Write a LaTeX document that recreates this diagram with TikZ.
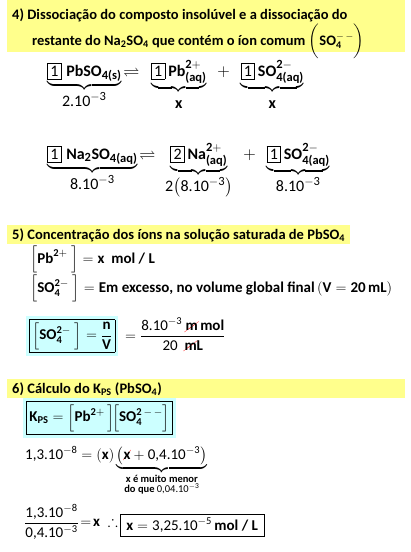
\documentclass[tikz,border=0pt]{standalone}
\usepackage{amsmath}
\usepackage{amssymb}
\usepackage{fontspec}
\setmainfont{Carlito}
\usepackage{cancel}
\renewcommand{\CancelColor}{\color{red}}
\DeclareMathSizes{16}{16}{12.5}{10}
\definecolor{bandyellow}{RGB}{255,255,140}
\definecolor{boxcyan}{RGB}{204,255,255}
\newcommand{\tb}[1]{\text{\bfseries #1}}
\newcommand{\tn}[1]{\text{\mdseries #1}}
\newcommand{\coef}[1]{\fbox{\tn{#1}}}
\newcommand{\pl}{\hspace{8pt}{+}\hspace{8pt}}
\setlength{\fboxsep}{2.5pt}
\setlength{\fboxrule}{0.6pt}

\begin{document}
\begin{tikzpicture}[x=1pt, y=-1pt]
    \def\fs{\fontsize{14.5}{17}\selectfont}
    \def\fe{\fontsize{15}{18}\selectfont}
    \def\fr{\fontsize{16}{19}\selectfont}

    \tikzset{
        txt/.style={anchor=base west, inner sep=0pt, font=\fs\bfseries},
        eq/.style={anchor=base west, inner sep=0pt, font=\fe\bfseries},
        rx/.style={anchor=base west, inner sep=0pt, font=\fr\bfseries},
        hlbox/.style={anchor=west, fill=boxcyan, inner sep=3pt, font=\fe\bfseries},
        resbox/.style={anchor=west, draw, line width=0.6pt, inner xsep=6pt, inner ysep=4pt, font=\fe\bfseries}
    }

    \useasboundingbox (0,0) rectangle (410,552);

    % title bands
    \fill[bandyellow] (7,0) rectangle (405,52);
    \fill[bandyellow] (7,225) rectangle (350,244);
    \fill[bandyellow] (7,379) rectangle (405,398);

    % 4th step
    \node[txt] (t4a) at (12,19) {4) Dissociação do composto insolúvel e a dissociação do};
    \node[txt] (t4b) at (32,45) {restante do Na\textsubscript{2}SO\textsubscript{4} que contém o íon comum $\bigg(\tb{SO}_{\tb 4}^{-\,-}\bigg)$};

    \node[rx] (r1) at (47,76) {$\underbrace{\coef{1}\;\tb{PbSO}_{\tb{4(s)}}}_{\textstyle\vphantom{\bigl(}\tn{2.10}^{-\tn 3}}
        \!\rightleftharpoons\hspace{7pt} \underbrace{\coef{1}\,\tb{Pb}^{\tb 2+}_{\tb{(aq)}}}_{\textstyle\vphantom{\bigl(}\tb x}
        \pl \underbrace{\coef{1}\,\tb{SO}^{\tb 2-}_{\tb{4(aq)}}}_{\textstyle\vphantom{\bigl(}\tb x}$};

    \node[rx] (r2) at (47,159) {$\underbrace{\coef{1}\;\tb{Na}_{\tb 2}\tb{SO}_{\tb{4(aq)}}}_{\textstyle\vphantom{\bigl(}\tn{8.10}^{-\tn 3}}
        \!\rightleftharpoons\hspace{5pt} \underbrace{\coef{2}\,\tb{Na}^{\tb 2+}_{\tb{(aq)}}}_{\textstyle\tn 2\bigl(\tn{8.10}^{-\tn 3}\bigr)}
        \pl \underbrace{\coef{1}\,\tb{SO}^{\tb 2-}_{\tb{4(aq)}}}_{\textstyle\vphantom{\bigl(}\tn{8.10}^{-\tn 3}}$};

    % 5th step
    \node[txt] (t5) at (12,239) {5) Concentração dos íons na solução saturada de PbSO\textsubscript{4}};
    \node[eq] (pb) at (30,263) {$\Bigl[\tb{Pb}^{\tb 2+}\;\Bigr] = \tb{x~ mol / L}$};
    \node[eq] (so4) at (30,292) {$\Bigl[\tb{SO}_{\tb 4}^{\tb 2-}\;\Bigr] = \tb{Em excesso, no volume global final}\left(\tb V = \tb{20}\,\tb{mL}\right)$};
    \node[hlbox] (so4box) at (26,336) {\fbox{$\Bigl[\tb{SO}_{\tb 4}^{\tb 2-}\;\Bigr] = \dfrac{\tb n}{\tb V}$}};
    \node[eq, anchor=west] (so4val) at (125,334) {$= \dfrac{\tn{8.10}^{-\tn 3}\ \cancel{\tb m}\,\tb{mol}}{\tn{20}\ \ \cancel{\tb m}\tb L}$};

    % 6th step
    \node[txt] (t6) at (12,393) {6) Cálculo do K\textsubscript{PS} (PbSO\textsubscript{4})};
    \node[hlbox] (kps) at (23,418) {\fbox{$\tb K_{\tb{PS}} = \Bigl[\tb{Pb}^{\tb 2+}\,\Bigr]\!\Bigl[\tb{SO}_{\tb 4}^{\tb 2\,-\,-}\Bigr]$}};
    \node[eq] (kval) at (25,459) {$\tn{1,3.10}^{-\tn 8} = \left(\tb x\right)\underbrace{\left(\cancel{\tb x}+\tn{0,4.10}^{-\tn 3}\right)}_{\substack{\tb{x é muito menor}\\ \tb{do que }\tn{0,04.10}^{-\tn 3}}}$};
    \node[eq, anchor=west] (xfrac) at (24,522) {$\dfrac{\tn{1,3.10}^{-\tn 8}}{\tn{0,4.10}^{-\tn 3}}\!=\!\tb x\;\therefore$};
    \node[resbox] (xres) at (120,525) {$\tb x = \tn{3,25.10}^{-\tn 5}\,\tb{mol / L}$};

\end{tikzpicture}
\end{document}
